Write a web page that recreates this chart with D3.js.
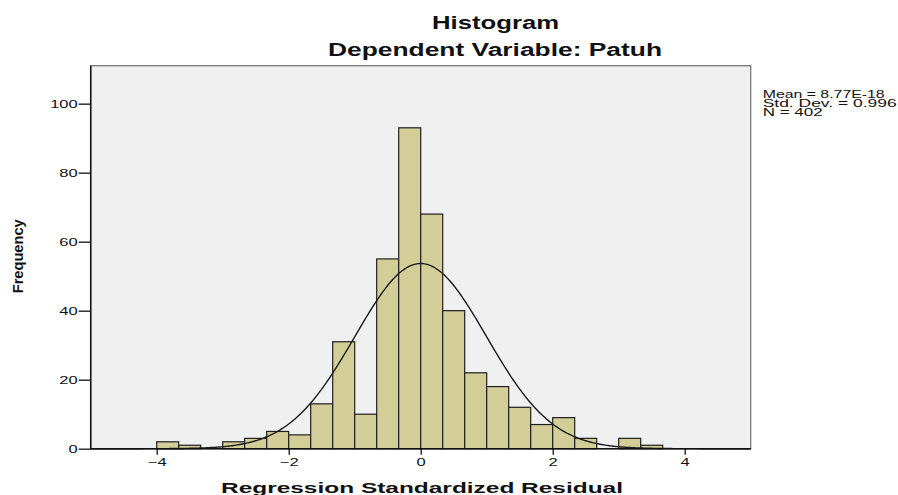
<!DOCTYPE html>
<html>
<head>
<meta charset="utf-8">
<script src="https://cdn.jsdelivr.net/npm/d3@7/dist/d3.min.js"></script>
<style>
  html, body { margin: 0; padding: 0; background: #ffffff; }
  svg { display: block; font-family: "Liberation Sans", Arial, sans-serif; }
</style>
</head>
<body>
<svg id="chart" width="898" height="495"></svg>
<script>
// ---- Data ----
const binStarts = [-4, -11/3, -10/3, -3, -8/3, -7/3, -2, -5/3, -4/3, -1, -2/3, -1/3,
                   0, 1/3, 2/3, 1, 4/3, 5/3, 2, 7/3, 8/3, 3, 10/3];
const binWidth = 1/3;
const counts = [2, 1, 0, 2, 3, 5, 4, 13, 31, 10, 55, 93,
                68, 40, 22, 18, 12, 7, 9, 3, 0, 3, 1];
const xTicks = [-4, -2, 0, 2, 4];
const yTicks = [0, 20, 40, 60, 80, 100];
const stats = { mean: 8.77e-18, sd: 0.996, n: 402 };
const legendLines = ["Mean = 8.77E-18", "Std. Dev. = 0.996", "N = 402"];
const legendWidths = [122, 134, 60];

// ---- Layout ----
const svg = d3.select("#chart");
const L = 90.7, R = 750.7, T = 65.7, B = 448.7;
const x = d3.scaleLinear().domain([-5, 5]).range([L, R]);
const y = d3.scaleLinear().domain([0, 111]).range([B, T]);

function stretch(sel, factor) {
  sel.each(function () {
    const w = this.getComputedTextLength();
    this.setAttribute("textLength", w * factor);
    this.setAttribute("lengthAdjust", "spacingAndGlyphs");
  });
}

// plot background
svg.append("rect")
  .attr("x", L).attr("y", T).attr("width", R - L).attr("height", B - T)
  .attr("fill", "#f0f0f0").attr("stroke", "#7a7a7a").attr("stroke-width", 1.3);

// bars
svg.append("g").selectAll("rect")
  .data(counts.map((c, i) => ({ x0: binStarts[i], c })))
  .join("rect")
  .filter(d => d.c > 0)
  .attr("x", d => x(d.x0))
  .attr("y", d => y(d.c))
  .attr("width", d => x(d.x0 + binWidth) - x(d.x0))
  .attr("height", d => y(0) - y(d.c))
  .attr("fill", "#d3ce98")
  .attr("stroke", "#1e1e1e")
  .attr("stroke-width", 1.2);

// normal curve
const k = stats.n * binWidth / (stats.sd * Math.sqrt(2 * Math.PI));
const curvePts = d3.range(-5, 5.0001, 0.02).map(v => [v, k * Math.exp(-0.5 * Math.pow((v - stats.mean) / stats.sd, 2))]);
svg.append("path")
  .datum(curvePts)
  .attr("fill", "none")
  .attr("stroke", "#1a1a1a")
  .attr("stroke-width", 1.4)
  .attr("d", d3.line().x(d => x(d[0])).y(d => y(d[1])).curve(d3.curveBasis));

// axes
const xAxis = svg.append("g")
  .attr("transform", `translate(0,${B})`)
  .call(d3.axisBottom(x).tickValues(xTicks).tickSize(6).tickPadding(4).tickFormat(d3.format("d")));
const yAxis = svg.append("g")
  .attr("transform", `translate(${L},0)`)
  .call(d3.axisLeft(y).tickValues(yTicks).tickSize(12).tickPadding(1).tickFormat(d3.format("d")));

[xAxis, yAxis].forEach(g => {
  g.select(".domain").attr("stroke", "#111").attr("stroke-width", 1.5);
  g.selectAll(".tick line").attr("stroke", "#111").attr("stroke-width", 1.3);
  g.selectAll(".tick text").attr("font-size", 11).attr("fill", "#111");
});
xAxis.select(".domain").attr("d", `M${L},0H${R}`);
yAxis.select(".domain").attr("d", `M0,${B}V${T}`);
stretch(xAxis.selectAll(".tick text"), 1.5);
stretch(yAxis.selectAll(".tick text"), 1.5);

// titles
svg.append("text").attr("x", 495.5).attr("y", 29).attr("text-anchor", "middle")
  .attr("font-size", 17.5).attr("font-weight", "bold").attr("fill", "#111")
  .attr("textLength", 127).attr("lengthAdjust", "spacingAndGlyphs")
  .text("Histogram");
svg.append("text").attr("x", 495).attr("y", 56).attr("text-anchor", "middle")
  .attr("font-size", 17.5).attr("font-weight", "bold").attr("fill", "#111")
  .attr("textLength", 334).attr("lengthAdjust", "spacingAndGlyphs")
  .text("Dependent Variable: Patuh");
svg.append("text").attr("x", 422).attr("y", 492.7).attr("text-anchor", "middle")
  .attr("font-size", 15.5).attr("font-weight", "bold").attr("fill", "#111")
  .attr("textLength", 402).attr("lengthAdjust", "spacingAndGlyphs")
  .text("Regression Standardized Residual");
svg.append("text")
  .attr("transform", "translate(23.3,256.3) rotate(-90)")
  .attr("text-anchor", "middle")
  .attr("font-size", 15.5).attr("font-weight", "bold").attr("fill", "#111")
  .attr("textLength", 74).attr("lengthAdjust", "spacingAndGlyphs")
  .text("Frequency");

// legend
svg.append("g").selectAll("text")
  .data(legendLines).join("text")
  .attr("x", 762.7)
  .attr("y", (d, i) => 97.5 + i * 9.4)
  .attr("font-size", 10).attr("fill", "#111")
  .attr("textLength", (d, i) => legendWidths[i])
  .attr("lengthAdjust", "spacingAndGlyphs")
  .text(d => d);
</script>
</body>
</html>
